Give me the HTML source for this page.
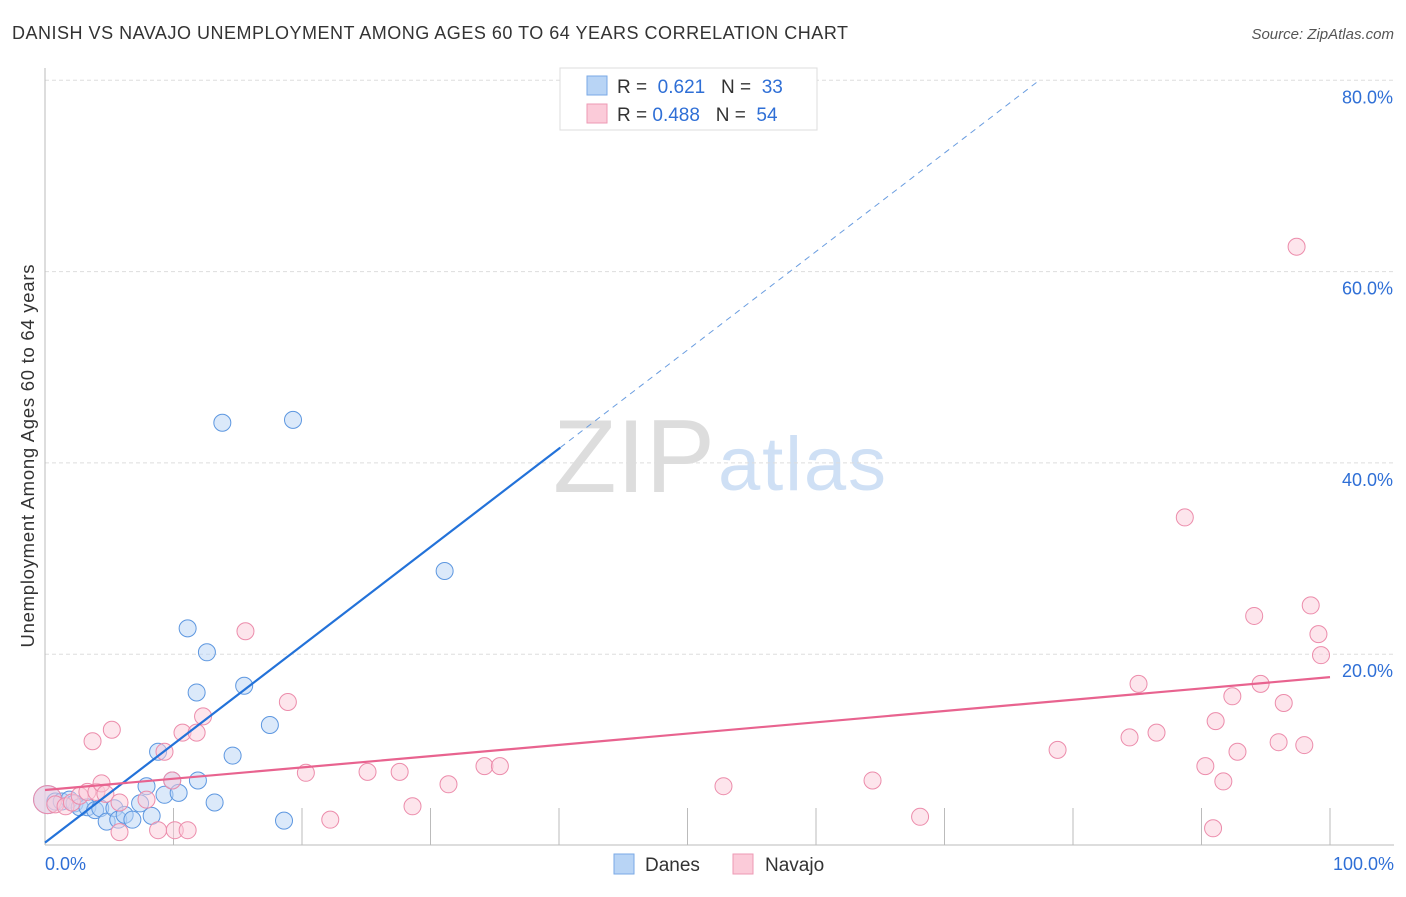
<!DOCTYPE html>
<html><head><meta charset="utf-8"><style>
body{margin:0;background:#fff;font-family:"Liberation Sans",sans-serif}
svg text{font-family:"Liberation Sans",sans-serif}
</style></head><body>
<svg id="c" width="1406" height="892">
<text x="12" y="39" font-size="18" fill="#333" textLength="836">DANISH VS NAVAJO UNEMPLOYMENT AMONG AGES 60 TO 64 YEARS CORRELATION CHART</text>
<text x="1394" y="39" font-size="15" fill="#555" font-style="italic" text-anchor="end">Source: ZipAtlas.com</text>
<text x="553" y="492" font-size="104" fill="#ddd" font-family="Liberation Serif" textLength="162">ZIP</text>
<text x="718" y="490" font-size="76" fill="#cfe0f5" textLength="168">atlas</text>
<g id="grid"></g><g id="marks"></g>
<text transform="translate(34,456) rotate(-90)" font-size="18.5" fill="#333" text-anchor="middle" textLength="383">Unemployment Among Ages 60 to 64 years</text>
<g>
<rect x="560" y="68" width="257" height="62" fill="#fff" stroke="#ddd"/>
<rect x="587" y="76" width="20" height="19" fill="#b8d4f5" stroke="#7aa9e6"/>
<rect x="587" y="104" width="20" height="19" fill="#fbcbd9" stroke="#ee9ab4"/>
<text x="617" y="93" font-size="19" fill="#333">R = <tspan fill="#2f6fd6">&#160;0.621</tspan>&#160;&#160;&#160;N = <tspan fill="#2f6fd6">&#160;33</tspan></text>
<text x="617" y="121" font-size="19" fill="#333">R = <tspan fill="#2f6fd6">0.488</tspan>&#160;&#160;&#160;N = <tspan fill="#2f6fd6">&#160;54</tspan></text>
</g>
<g>
<rect x="614" y="854" width="20" height="20" fill="#b8d4f5" stroke="#7aa9e6"/>
<text x="645" y="871" font-size="19" fill="#333">Danes</text>
<rect x="733" y="854" width="20" height="20" fill="#fbcbd9" stroke="#ee9ab4"/>
<text x="765" y="871" font-size="19" fill="#333">Navajo</text>
</g>
</svg>
<script>
const yTicks=[20,40,60,80];
const yTickLabels=["20.0%","40.0%","60.0%","80.0%"];
const xTickLabels=["0.0%","100.0%"];
const danesX=[0.2,0.8,1.3,1.9,2.3,2.7,3.3,3.9,4.3,4.8,5.4,5.7,6.2,6.8,7.4,7.9,8.3,8.8,9.3,9.9,10.4,11.1,11.8,11.9,12.6,13.2,13.8,14.6,15.5,17.5,18.6,19.3,31.1];
const danesY=[4.8,4.6,4.6,4.8,4.4,4.0,4.0,3.7,3.9,2.5,3.9,2.7,3.2,2.7,4.4,6.2,3.1,9.8,5.3,6.8,5.5,22.7,16.0,6.8,20.2,4.5,44.2,9.4,16.7,12.6,2.6,44.5,28.7];
const navajoX=[0.2,0.8,1.6,2.1,2.7,3.3,3.7,4.0,4.4,4.7,5.2,5.8,5.8,7.9,8.8,9.3,9.9,10.1,10.7,11.1,11.8,12.3,15.6,18.9,20.3,22.2,25.1,27.6,28.6,31.4,34.2,35.4,52.8,64.4,68.1,78.8,84.4,85.1,86.5,88.7,90.3,90.9,91.1,91.7,92.4,92.8,94.1,94.6,96.0,96.4,97.4,98.0,98.5,99.1,99.3];
const navajoY=[4.8,4.3,4.1,4.5,5.2,5.6,10.9,5.6,6.5,5.4,12.1,1.4,4.5,4.8,1.6,9.8,6.8,1.6,11.8,1.6,11.8,13.5,22.4,15.0,7.6,2.7,7.7,7.7,4.1,6.4,8.3,8.3,6.2,6.8,3.0,10.0,11.3,16.9,11.8,34.3,8.3,1.8,13.0,6.7,15.6,9.8,24.0,16.9,10.8,14.9,62.6,10.5,25.1,22.1,19.9];
const danesLine=[0.3,1.03];const navajoLine=[5.8,0.118];
const X=v=>45+v*12.85, Y=v=>845.5-v*9.565;
const NS="http://www.w3.org/2000/svg";
function mk(t,a,p){const e=document.createElementNS(NS,t);for(const k in a)e.setAttribute(k,a[k]);p.appendChild(e);return e;}
const g=document.getElementById('grid'),m=document.getElementById('marks');
yTicks.forEach((t,i)=>{
 const l=mk('line',{x1:45,x2:1394,y1:Y(t),y2:Y(t),stroke:'#ddd','stroke-dasharray':'4,3'},g);
 
 
 const tx=mk('text',{x:1393,y:Y(t)+23,'font-size':18,fill:'#2f6fd6','text-anchor':'end'},g);tx.textContent=yTickLabels[i];
 
 
});
for(let i=1;i<=10;i++){const l=mk('line',{x1:X(i*10),x2:X(i*10),y1:808,y2:845,stroke:'#bbb'},g);
 
 }
mk('line',{x1:45,x2:45,y1:68,y2:845,stroke:'#bbb'},g);
mk('line',{x1:45,x2:1394,y1:845,y2:845,stroke:'#bbb'},g);
[[0,'start',45],[100,'end',1394]].forEach((d,i)=>{const t=mk('text',{x:d[2],y:870,'font-size':18,fill:'#2f6fd6','text-anchor':d[1]},g);t.textContent=xTickLabels[i];
 
 });
function dots(xs,ys,f,s,n){xs.forEach((x,i)=>{const c=mk('circle',{cx:X(x),cy:Y(ys[i]),r:i==0?14:8.5,fill:f,'fill-opacity':0.5,stroke:s,'stroke-width':1},m);
 
 });}
dots(danesX,danesY,'#b8d4f5','#5d97e0','danes-point');
dots(navajoX,navajoY,'#fbcbd9','#ec8cab','navajo-point');
let l=mk('line',{x1:X(0),y1:Y(danesLine[0]),x2:X(40.1),y2:Y(danesLine[0]+danesLine[1]*40.1),stroke:'#2372d9','stroke-width':2.2},m);


l=mk('line',{x1:X(40.1),y1:Y(danesLine[0]+danesLine[1]*40.1),x2:X(77.4),y2:Y(danesLine[0]+danesLine[1]*77.4),stroke:'#6a9de0','stroke-width':1,'stroke-dasharray':'6,5'},m);


l=mk('line',{x1:X(0),y1:Y(navajoLine[0]),x2:X(100),y2:Y(navajoLine[0]+navajoLine[1]*100),stroke:'#e8638f','stroke-width':2.2},m);


</script>
</body></html>
